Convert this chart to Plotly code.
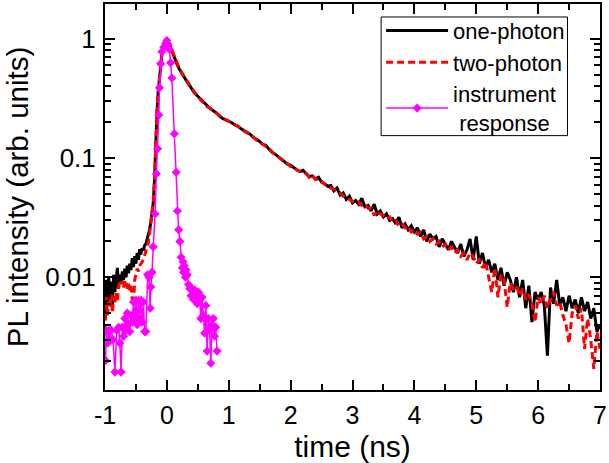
import numpy as np
import plotly.graph_objects as go

# ---------------- data ----------------
# early part (rise + peak + initial decay), shared time grid
t_early = [-1.00, -0.98, -0.96, -0.94, -0.92, -0.90, -0.88, -0.86, -0.84, -0.82,
           -0.80, -0.78, -0.76, -0.74, -0.72, -0.70, -0.68, -0.66, -0.64, -0.62,
           -0.60, -0.58, -0.56, -0.54, -0.52, -0.50, -0.48, -0.46, -0.44, -0.42,
           -0.40, -0.38, -0.36, -0.34, -0.32, -0.30, -0.28, -0.26, -0.24, -0.22,
           -0.20, -0.18, -0.16, -0.14, -0.12, -0.10, -0.08, -0.06, -0.04, -0.02,
           0.00, 0.02, 0.04, 0.06, 0.08, 0.10, 0.13, 0.16, 0.20, 0.25,
           0.30, 0.35, 0.40, 0.45, 0.50, 0.55, 0.60, 0.65, 0.70, 0.75,
           0.80, 0.85, 0.90, 0.95]

one_photon_early = [0.0045, 0.0095, 0.0060, 0.0100, 0.0065, 0.0092, 0.0058, 0.0105, 0.0075, 0.0098,
                    0.0120, 0.0080, 0.0105, 0.0088, 0.0112, 0.0095, 0.0118, 0.0100, 0.0125, 0.0108,
                    0.0130, 0.0115, 0.0145, 0.0122, 0.0150, 0.0130, 0.0160, 0.0140, 0.0172, 0.0155,
                    0.0175, 0.0168, 0.0185, 0.0190, 0.0205, 0.0225, 0.025, 0.029, 0.034, 0.042,
                    0.065, 0.14, 0.24, 0.36, 0.47, 0.60, 0.76, 0.86, 0.93, 0.98,
                    1.00, 0.97, 0.90, 0.84, 0.79, 0.74, 0.68, 0.62, 0.56, 0.50,
                    0.46, 0.42, 0.38, 0.35, 0.33, 0.31, 0.29, 0.275, 0.26, 0.25,
                    0.24, 0.225, 0.215, 0.21]

two_photon_early = [0.0035, 0.0070, 0.0048, 0.0062, 0.0055, 0.0072, 0.0050, 0.0068, 0.0060, 0.0075,
                    0.0062, 0.0085, 0.0095, 0.0088, 0.0092, 0.0082, 0.0095, 0.0090, 0.0080, 0.0088,
                    0.0078, 0.0085, 0.0065, 0.0058, 0.0095, 0.0110, 0.0118, 0.0112, 0.0125, 0.0130,
                    0.0135, 0.0140, 0.0152, 0.0165, 0.0178, 0.0195, 0.023, 0.028, 0.034, 0.043,
                    0.066, 0.14, 0.24, 0.36, 0.48, 0.61, 0.75, 0.85, 0.92, 0.97,
                    0.99, 0.96, 0.91, 0.85, 0.80, 0.75, 0.69, 0.63, 0.57, 0.51,
                    0.465, 0.425, 0.385, 0.355, 0.33, 0.305, 0.29, 0.27, 0.262, 0.248,
                    0.238, 0.228, 0.216, 0.208]

# tail, sampled every 0.05 ns from 1.00 ns to 7.00 ns
tail_start, tail_step = 1.00, 0.05
one_photon_tail = [0.205, 0.198, 0.19, 0.185, 0.176, 0.17, 0.162, 0.158, 0.149, 0.143,
                   0.138, 0.13, 0.128, 0.119, 0.112, 0.108, 0.103, 0.097, 0.092, 0.089,
                   0.087, 0.083, 0.080, 0.077, 0.079, 0.074, 0.070, 0.071, 0.067, 0.069,
                   0.063, 0.061, 0.058, 0.059, 0.053, 0.056, 0.049, 0.051, 0.045, 0.048,
                   0.042, 0.044, 0.041, 0.046, 0.039, 0.040, 0.036, 0.041, 0.034, 0.036,
                   0.032, 0.034, 0.030, 0.031, 0.028, 0.032, 0.026, 0.028, 0.025, 0.027,
                   0.024, 0.026, 0.022, 0.025, 0.020, 0.023, 0.021, 0.022, 0.018, 0.021,
                   0.019, 0.017, 0.020, 0.018, 0.016, 0.019, 0.015, 0.017, 0.021, 0.014,
                   0.022, 0.013, 0.016, 0.012, 0.014, 0.011, 0.013, 0.0095, 0.012, 0.0085,
                   0.011, 0.0095, 0.0075, 0.010, 0.0068, 0.0095, 0.0055, 0.0085, 0.0042, 0.0075,
                   0.0065, 0.0075, 0.0058, 0.0022, 0.0082, 0.0060, 0.0095, 0.0058, 0.0068, 0.0052,
                   0.0070, 0.0055, 0.0065, 0.0050, 0.0068, 0.0052, 0.0062, 0.0045, 0.0055, 0.0035,
                   0.0040]

two_photon_tail = [0.203, 0.196, 0.191, 0.183, 0.178, 0.168, 0.163, 0.155, 0.150, 0.141,
                   0.137, 0.131, 0.125, 0.120, 0.113, 0.106, 0.102, 0.098, 0.091, 0.090,
                   0.085, 0.084, 0.079, 0.078, 0.076, 0.075, 0.069, 0.072, 0.066, 0.067,
                   0.064, 0.060, 0.059, 0.056, 0.055, 0.053, 0.051, 0.048, 0.047, 0.045,
                   0.043, 0.042, 0.043, 0.040, 0.041, 0.038, 0.038, 0.033, 0.036, 0.034,
                   0.033, 0.031, 0.032, 0.029, 0.030, 0.027, 0.028, 0.026, 0.027, 0.024,
                   0.025, 0.023, 0.024, 0.021, 0.022, 0.020, 0.021, 0.019, 0.020, 0.018,
                   0.019, 0.017, 0.018, 0.016, 0.017, 0.015, 0.016, 0.014, 0.016, 0.015,
                   0.013, 0.014, 0.012, 0.0135, 0.010, 0.0075, 0.012, 0.0068, 0.0105, 0.0095,
                   0.0056, 0.0090, 0.0080, 0.0085, 0.0070, 0.0080, 0.0065, 0.0072, 0.0060, 0.0042,
                   0.0068, 0.0060, 0.0070, 0.0055, 0.0065, 0.0075, 0.0058, 0.0062, 0.0048, 0.0040,
                   0.0028, 0.0050, 0.0058, 0.0045, 0.0055, 0.0025, 0.0045, 0.0030, 0.0017, 0.0035,
                   0.0025]

# instrument response
t_irf = [-0.99, -0.98, -0.96, -0.94, -0.92, -0.90, -0.87, -0.84, -0.81, -0.78,
         -0.76, -0.74, -0.72, -0.70, -0.68, -0.66, -0.64, -0.62, -0.60, -0.58,
         -0.56, -0.54, -0.52, -0.50, -0.48, -0.46, -0.44, -0.42, -0.40, -0.38,
         -0.36, -0.34, -0.31, -0.29, -0.27, -0.26, -0.24, -0.22, -0.19, -0.17,
         -0.15, -0.13, -0.12, -0.10, -0.08, -0.05, -0.02, 0.00, 0.02, 0.04,
         0.06, 0.08, 0.12, 0.15, 0.17, 0.19, 0.21, 0.23, 0.25, 0.26,
         0.27, 0.28, 0.30, 0.31, 0.33, 0.35, 0.37, 0.39, 0.41, 0.43,
         0.45, 0.47, 0.49, 0.51, 0.53, 0.55, 0.57, 0.59, 0.61, 0.63,
         0.65, 0.67, 0.69, 0.71, 0.73, 0.75, 0.77, 0.79, 0.81]
irf = [0.0020, 0.0035, 0.0028, 0.0036, 0.0030, 0.0036, 0.0030, 0.0016, 0.0036, 0.0038,
       0.0028, 0.0016, 0.0038, 0.0032, 0.0045, 0.0036, 0.0050, 0.0040, 0.0035, 0.0048,
       0.0042, 0.0062, 0.0045, 0.0064, 0.0040, 0.0064, 0.0045, 0.0064, 0.0042, 0.0062,
       0.0035, 0.0035, 0.0105, 0.0100, 0.0055, 0.0083, 0.0110, 0.018, 0.034, 0.074,
       0.12, 0.23, 0.39, 0.62, 0.78, 0.85, 0.92, 0.97, 0.90, 0.82,
       0.63, 0.47, 0.16, 0.076, 0.036, 0.025, 0.020, 0.0147, 0.012, 0.0135,
       0.011, 0.0125, 0.010, 0.0115, 0.0105, 0.0087, 0.0080, 0.0070, 0.0080, 0.0065,
       0.0078, 0.0072, 0.0060, 0.0075, 0.0065, 0.0045, 0.0068, 0.0048, 0.0034, 0.0058,
       0.0024, 0.0045, 0.0036, 0.0019, 0.0040, 0.0045, 0.0032, 0.0038, 0.0024]

x_ticks = [-1, 0, 1, 2, 3, 4, 5, 6, 7]
x_ticktext = ["-1", "0", "1", "2", "3", "4", "5", "6", "7"]
y_ticks = [0.01, 0.1, 1]
y_ticktext = ["0.01", "0.1", "1"]

# ---------------- assemble ----------------
t_tail_one = [round(tail_start + tail_step * i, 3) for i in range(len(one_photon_tail))]
t_tail_two = [round(tail_start + tail_step * i, 3) for i in range(len(two_photon_tail))]
t_one = t_early + t_tail_one
t_two = t_early + t_tail_two
y_one = one_photon_early + one_photon_tail
y_two = two_photon_early + two_photon_tail

FONT = "Arial, Liberation Sans, sans-serif"

fig = go.Figure()
fig.add_trace(go.Scatter(x=t_one, y=y_one, mode="lines", name="one-photon",
                         line=dict(color="black", width=3)))
fig.add_trace(go.Scatter(x=t_two, y=y_two, mode="lines", name="two-photon",
                         line=dict(color="#FF0000", width=3, dash="7px,4px")))
fig.add_trace(go.Scatter(x=t_irf, y=irf, mode="lines+markers",
                         name="instrument<br>&nbsp;response",
                         line=dict(color="#FF00FF", width=1.5),
                         marker=dict(symbol="diamond", size=7, color="#FF00FF")))

axis_common = dict(showline=True, linecolor="black", linewidth=2, mirror="allticks",
                   ticks="inside", tickcolor="black", tickwidth=2, showgrid=False,
                   zeroline=False, ticklabeloverflow="allow")

fig.update_layout(
    width=609, height=463,
    margin=dict(l=105, r=2, t=3, b=73),
    paper_bgcolor="white", plot_bgcolor="white",
    font=dict(family=FONT, color="black"),
    showlegend=True,
    shapes=[dict(type="rect", xref="paper", yref="paper",
                 x0=0.5578, x1=0.9343, y0=0.659, y1=0.9664,
                 line=dict(color="black", width=1), fillcolor="white", layer="below")],
    legend=dict(x=0.5578, y=0.985, xanchor="left", yanchor="top",
                bgcolor="rgba(0,0,0,0)", borderwidth=0, itemwidth=62,
                font=dict(size=22, family=FONT), tracegroupgap=0),
    xaxis=dict(range=[-1, 7], tickvals=x_ticks, ticktext=x_ticktext, ticklen=10,
               tickfont=dict(size=25), ticklabelstandoff=2,
               minor=dict(dtick=0.5, ticks="inside", ticklen=6, tickcolor="black", tickwidth=2),
               title=dict(text="time (ns)", font=dict(size=30), standoff=9),
               **axis_common),
    yaxis=dict(type="log", range=[-2.946, 0.293], tickvals=y_ticks, ticktext=y_ticktext,
               ticklen=10, tickfont=dict(size=26), ticklabelstandoff=2,
               minor=dict(dtick="D1", ticks="inside", ticklen=6, tickcolor="black", tickwidth=2),
               title=dict(text="PL intensity (arb. units)", font=dict(size=29.5), standoff=8),
               **axis_common),
)

fig.write_html("out.html")
